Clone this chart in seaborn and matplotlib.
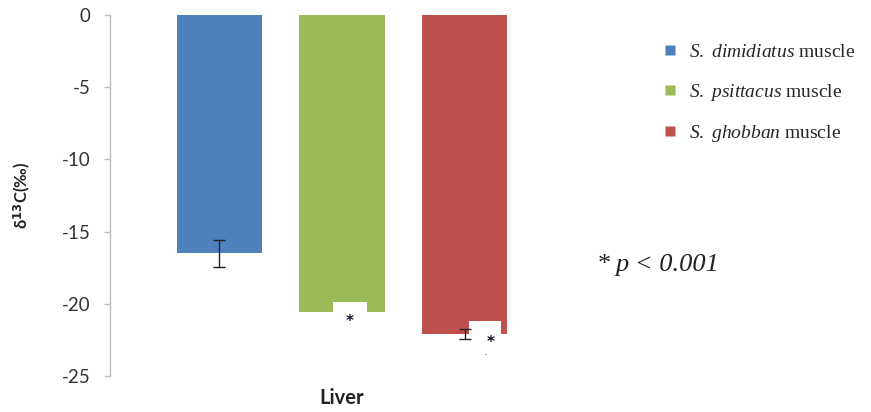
import matplotlib
matplotlib.use("Agg")
import matplotlib.pyplot as plt
from matplotlib.lines import Line2D
from matplotlib.patches import Rectangle
import seaborn as sns
import pandas as pd

# Carbon isotope values of liver tissue for three parrotfish species
tissue = ["Liver"]
genus = ["S.", "S.", "S."]
epithet = ["dimidiatus", "psittacus", "ghobban"]
delta13c = [-16.5, -20.6, -22.1]
std_err = [0.95, None, 0.35]
significant = [False, True, True]
colors = ["#4F81BD", "#9BBB59", "#C0504D"]

species = [f"{g} {e}" for g, e in zip(genus, epithet)]

sns.set_theme(style="white")
plt.rcParams["font.family"] = ["Lato", "DejaVu Sans"]
plt.rcParams["mathtext.fontset"] = "custom"
plt.rcParams["mathtext.rm"] = "Liberation Serif"
plt.rcParams["mathtext.it"] = "Liberation Serif:italic"

df = pd.DataFrame({
    "tissue": tissue * len(species),
    "species": species,
    "value": delta13c,
})

fig = plt.figure(figsize=(8.71, 4.12), dpi=100)
ax = fig.add_axes([110 / 871, 1 - 376 / 412, (574 - 110) / 871, (376 - 15) / 412])

sns.barplot(data=df, x="tissue", y="value", hue="species", hue_order=species,
            palette=colors, saturation=1, width=0.8, gap=0.3, errorbar=None,
            linewidth=0, legend=False, ax=ax)

bars = list(ax.patches)
for bar, val, err, sig in zip(bars, delta13c, std_err, significant):
    cx = bar.get_x() + bar.get_width() / 2
    if err is not None:
        ax.errorbar(cx, val, yerr=err, color="#222222", elinewidth=1.0,
                    capsize=4.5, capthick=1.0, zorder=4)
    if sig:
        w = bar.get_width()
        # white label box cut into the bar bottom, with the significance star
        if val > -21:
            box_x, box_w, box_h = cx - 0.1 * w, 0.39 * w, 0.7
            star_x = cx + 0.09 * w
        else:
            box_x, box_w, box_h = cx + 0.05 * w, 0.37 * w, 0.9
            star_x = cx + 0.3 * w
            ax.text(cx + 0.24 * w, val - 1.3, ".", ha="center", va="center",
                    fontsize=6, color="#333333", zorder=5)
        ax.add_patch(Rectangle((box_x, val), box_w, box_h, facecolor="white",
                               edgecolor="none", zorder=3))
        ax.text(star_x, val - 0.6, "*", ha="center", va="center",
                fontsize=11, fontweight="bold", color="#111133", zorder=5,
                family=["DejaVu Sans"])

ax.set_ylim(-25, 0)
ax.set_xlim(-0.505, 0.505)
ax.set_yticks([0, -5, -10, -15, -20, -25])
ax.set_yticklabels(["0", "-5", "-10", "-15", "-20", "-25"])

for side in ["top", "right", "bottom"]:
    ax.spines[side].set_visible(False)
ax.spines["left"].set_color("#BFBFBF")
ax.spines["left"].set_linewidth(1.0)

ax.tick_params(axis="y", left=True, length=4, width=1, color="#BFBFBF",
               pad=10, labelsize=13.5, labelcolor="#333333")
ax.tick_params(axis="x", bottom=False, length=0, pad=9, labelsize=14.5,
               labelcolor="#222222")
for lab in ax.get_xticklabels():
    lab.set_fontweight("bold")

ax.set_xlabel("")
ax.set_ylabel(r"δ$^{\mathbf{13}}$C(‰)", fontsize=12, fontweight="bold",
              color="#222222", labelpad=21)

handles = [Line2D([], [], marker="s", linestyle="none", markersize=7,
                  markerfacecolor=c, markeredgecolor="none") for c in colors]
labels = [rf"$\it{{{g}}}$ $\it{{{e}}}$ muscle" for g, e in zip(genus, epithet)]
leg = fig.legend(handles, labels, loc="upper left",
                 bbox_to_anchor=(643 / 871, 1 - 26 / 412), frameon=False,
                 prop={"family": "Liberation Serif", "size": 14},
                 handlelength=1.0, handletextpad=0.45, labelspacing=1.05)

fig.text(598 / 871, 1 - 265 / 412, "*", fontsize=19, family="Liberation Serif",
         va="center", ha="left", color="#222222")
fig.text(616 / 871, 1 - 265 / 412, "p < 0.001", fontsize=19,
         family="Liberation Serif", style="italic", va="center", ha="left",
         color="#222222")

fig.savefig("out.png", dpi=100)
